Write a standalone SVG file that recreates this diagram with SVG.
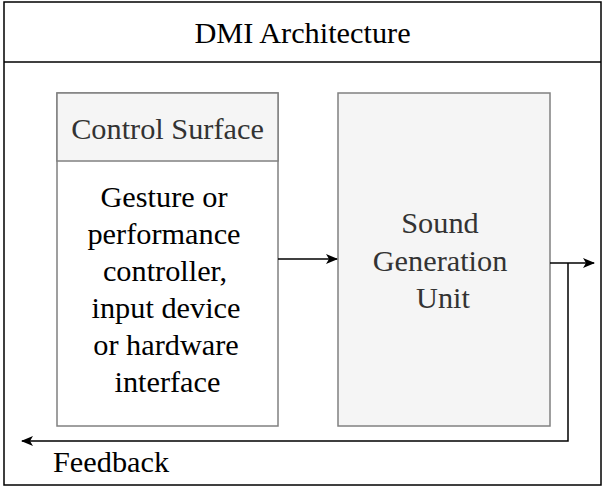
<svg xmlns="http://www.w3.org/2000/svg" width="606" height="488" viewBox="0 0 606 488">
<style>
text{font-family:'Liberation Serif','Times New Roman',serif;font-size:30.3px;}
.c{text-anchor:middle;}
.box{stroke:#808080;stroke-width:1.5;}
.ln{fill:none;stroke:#000;stroke-width:1.5;}
</style>
<defs>
<marker id="ah" viewBox="0 0 12 10" refX="11" refY="5" markerWidth="12" markerHeight="10" markerUnits="userSpaceOnUse" orient="auto">
<path d="M0,0 L12,5 L0,10 L3,5 Z" fill="#000"/>
</marker>
</defs>
<rect width="606" height="488" fill="#fff"/>
<g id="frame">
<rect x="4" y="2" width="597" height="483" fill="#fff" stroke="#000" stroke-width="1.5"/>
<line x1="4" y1="62" x2="601" y2="62" stroke="#000" stroke-width="1.5"/>
<text class="c" x="302.5" y="43">DMI Architecture</text>
</g>
<g id="control-surface">
<rect class="box" x="57" y="93" width="221" height="333" fill="#fff"/>
<rect class="box" x="57" y="93" width="221" height="68" fill="#f5f5f5"/>
<text class="c" x="167.5" y="139" fill="#333">Control Surface</text>
<text class="c" x="165" fill="#000"><tspan x="164" y="207">Gesture or</tspan><tspan x="164" y="244">performance</tspan><tspan x="165" y="281">controller,</tspan><tspan x="166" y="318">input device</tspan><tspan x="166" y="355">or hardware</tspan><tspan x="167.5" y="392">interface</tspan></text>
</g>
<g id="sound-generation">
<rect class="box" x="338" y="93" width="212" height="333" fill="#f5f5f5"/>
<text class="c" fill="#333"><tspan x="440" y="233">Sound</tspan><tspan x="440" y="271">Generation</tspan><tspan x="443" y="308">Unit</tspan></text>
</g>
<g id="connectors">
<line class="ln" x1="278" y1="259" x2="337" y2="259" marker-end="url(#ah)"/>
<line class="ln" x1="550" y1="263" x2="594" y2="263" marker-end="url(#ah)"/>
<polyline class="ln" points="568,263 568,441 22,441" marker-end="url(#ah)"/>
<text x="53" y="472">Feedback</text>
</g>
</svg>
